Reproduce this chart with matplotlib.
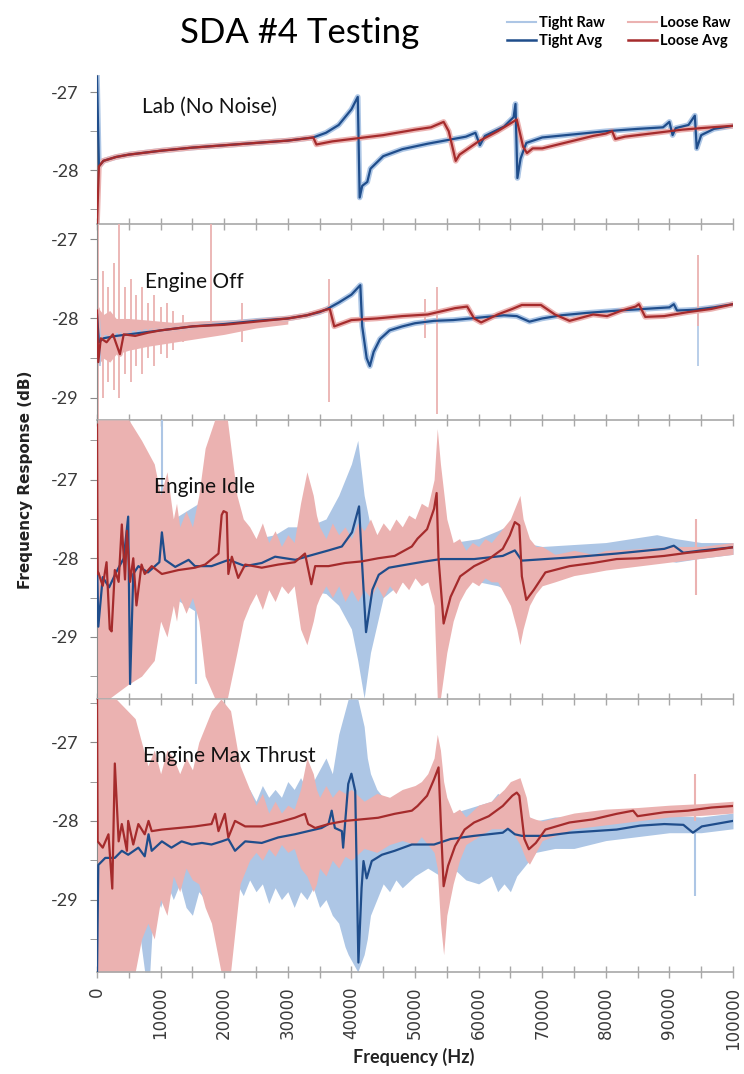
import numpy as np
import matplotlib.pyplot as plt
from matplotlib.ticker import MultipleLocator, StrMethodFormatter
from matplotlib.lines import Line2D

plt.rcParams['axes.unicode_minus'] = False

# ---- data (frequency in kHz, response in dB) ----

# Lab (No Noise)
lab_tight_f = [0, 0.3, 1, 3, 5, 10, 15, 20, 25, 30, 34, 36, 38, 40, 41, 41.3, 41.7, 42.5, 43, 45,
               48, 52, 56, 58, 59.5, 60.2, 61, 62, 64, 65.5, 65.8, 66.1, 66.6, 67.5, 70, 75, 80, 85,
               89, 90, 90.5, 91, 93, 94, 94.3, 95, 97, 100]
lab_tight = [-26.8, -27.95, -27.88, -27.83, -27.8, -27.75, -27.71, -27.68, -27.65, -27.62,
             -27.58, -27.52, -27.42, -27.22, -27.06, -28.35, -28.2, -28.15, -27.98, -27.82,
             -27.73, -27.66, -27.6, -27.57, -27.52, -27.68, -27.56, -27.52, -27.44, -27.32,
             -27.15, -28.1, -27.85, -27.65, -27.58, -27.54, -27.5, -27.47, -27.45, -27.38,
             -27.55, -27.46, -27.42, -27.3, -27.72, -27.55, -27.47, -27.43]
lab_loose_f = [0, 0.3, 1, 3, 5, 10, 15, 20, 25, 30, 34, 34.5, 37, 40, 45, 50, 52.5, 54.5, 55.3, 56.4,
               57, 60, 63, 65, 66, 67, 67.6, 68.5, 70, 72, 75, 78, 80, 81, 81.5, 83, 85, 88, 90, 92,
               95, 100]
lab_loose = [-28.7, -27.95, -27.88, -27.83, -27.8, -27.75, -27.71, -27.68, -27.65, -27.62,
             -27.58, -27.67, -27.63, -27.6, -27.55, -27.48, -27.45, -27.38, -27.5, -27.88,
             -27.8, -27.63, -27.5, -27.4, -27.35, -27.7, -27.78, -27.72, -27.72, -27.68,
             -27.62, -27.56, -27.53, -27.5, -27.6, -27.57, -27.55, -27.52, -27.5, -27.48,
             -27.46, -27.43]

# Engine Off
off_tight_f = [0, 0.3, 1, 3, 5, 10, 15, 20, 25, 30, 33, 35, 36.2, 38, 40, 41.4, 41.7, 42.4, 42.9, 43.5,
               44.5, 46, 48, 50, 53, 56, 60, 64, 66, 68, 70, 73, 77, 82, 86, 90, 90.7, 91.2, 94, 97,
               100]
off_tight = [-27.95, -28.3, -28.25, -28.22, -28.2, -28.15, -28.1, -28.07, -28.03, -28.0,
             -27.96, -27.92, -27.88, -27.8, -27.7, -27.58, -28.1, -28.5, -28.6, -28.42,
             -28.26, -28.15, -28.1, -28.06, -28.03, -28.02, -27.99, -27.96, -27.97, -28.04,
             -28.0, -27.96, -27.93, -27.9, -27.88, -27.86, -27.82, -27.9, -27.89, -27.86,
             -27.82]
off_loose_f = [0, 0.2, 0.6, 1.5, 2.5, 3.6, 4.2, 6, 8, 10, 15, 20, 25, 30, 33, 36, 36.6, 37.3, 40, 44,
               48, 52, 56.3, 58.2, 59.3, 60.4, 63, 65.3, 66.8, 69.8, 72, 74.3, 75.7, 78, 80.2, 82.5,
               84.7, 85.2, 86.2, 89.2, 92.9, 96.6, 100]
off_loose = [-27.9, -28.55, -28.25, -28.3, -28.2, -28.45, -28.2, -28.22, -28.18, -28.15,
             -28.1, -28.08, -28.04, -28.0, -27.96, -27.89, -27.88, -28.1, -28.02, -28.0,
             -27.97, -27.95, -27.87, -27.85, -28.0, -28.05, -27.95, -27.88, -27.83, -27.83,
             -27.95, -28.03, -28.0, -27.95, -27.97, -27.9, -27.85, -27.82, -27.98, -27.97,
             -27.92, -27.88, -27.82]
off_loose_band_f = [0, 1, 2, 3, 5, 8, 12, 16, 20, 25, 30]
off_loose_band_hi = [-27.85, -27.95, -27.9, -28.0, -28.0, -28.02, -28.05, -28.03, -28.02, -28.0, -27.97]
off_loose_band_lo = [-28.6, -28.5, -28.55, -28.45, -28.4, -28.35, -28.3, -28.25, -28.2, -28.12, -28.07]
off_loose_spike_f = [0.2, 1.0, 1.8, 2.6, 3.5, 4.4, 5.3, 6.2, 7.1, 8.0, 9.0, 10.0, 11.0, 12.0,
                     13.5, 18.0, 22.8, 36.5, 51.5, 53.5, 94.5]
off_loose_spike_hi = [-26.8, -27.4, -27.6, -27.3, -26.8, -27.6, -27.5, -27.7, -27.6, -27.8,
                      -27.7, -27.85, -27.8, -27.9, -27.95, -26.8, -27.8, -27.5, -27.75, -27.6,
                      -27.2]
off_loose_spike_lo = [-29.28, -29.0, -28.8, -28.9, -29.0, -28.7, -28.8, -28.6, -28.7, -28.5,
                      -28.6, -28.45, -28.5, -28.4, -28.3, -28.15, -28.3, -29.05, -28.25, -29.2,
                      -28.1]
off_tight_spike_f = [0.5, 94.5]
off_tight_spike_hi = [-28.2, -27.85]
off_tight_spike_lo = [-28.6, -28.6]

# Engine Idle
idle_tight_f = [0, 0.2, 0.9, 1.9, 3.0, 4.2, 4.9, 5.2, 5.7, 6.5, 8.0, 9.8, 10.2, 10.7, 12.3, 14.4,
                15.4, 18, 20.7, 23.3, 25.9, 28, 31.2, 33.3, 36.4, 38.5, 40.1, 41.2, 41.7, 42.3,
                43.3, 44.3, 45.9, 48, 51.6, 54.1, 59.3, 63.8, 65.7, 66.8, 70.5, 74.3, 81.7, 89.2,
                90.7, 92.2, 95.1, 100]
idle_tight = [-28.0, -28.87, -28.24, -28.37, -28.18, -28.0, -27.47, -29.6, -28.2, -28.1,
              -28.18, -28.05, -27.67, -28.02, -28.11, -28.02, -28.1, -28.1, -28.02, -28.1,
              -28.06, -27.98, -28.02, -27.97, -27.9, -27.85, -27.67, -27.34, -28.1, -28.94,
              -28.4, -28.21, -28.12, -28.09, -28.04, -28.01, -28.01, -27.97, -27.9, -28.03,
              -28.01, -27.99, -27.94, -27.88, -27.84, -27.93, -27.9, -27.86]
idle_loose_f = [0, 0.1, 0.2, 0.9, 1.5, 2.0, 2.3, 2.8, 3.4, 3.9, 4.4, 4.7, 5.2, 5.7, 6.2, 7.0, 7.5,
                8.6, 10.2, 12.8, 15.4, 17, 19.1, 19.6, 19.9, 20.4, 20.65, 21.2, 22.2, 23.3, 25.9,
                28.5, 31.1, 32.7, 33.7, 34.3, 36.4, 39, 41.6, 44.2, 46.8, 49.5, 50.4, 51.9, 53.0,
                53.4, 53.7, 54.5, 55.6, 57.1, 59.3, 61.6, 63.8, 64.9, 65.7, 66.4, 66.8, 67.5, 68.7,
                70.5, 74.3, 78, 81.7, 85, 89.2, 92.9, 96.6, 100]
idle_loose = [-26.3, -28.2, -28.18, -28.35, -28.05, -28.9, -28.93, -28.15, -28.3, -27.57,
              -28.27, -27.65, -28.3, -28.0, -28.6, -28.08, -28.2, -28.1, -28.2, -28.15,
              -28.12, -28.08, -27.94, -27.45, -27.4, -27.42, -28.2, -27.98, -28.25, -28.08,
              -28.12, -28.08, -28.05, -27.94, -28.33, -28.1, -28.1, -28.06, -28.04, -28.0,
              -27.97, -27.85, -27.75, -27.63, -27.37, -27.17, -28.0, -28.83, -28.49, -28.23,
              -28.1, -28.01, -27.88, -27.71, -27.54, -27.58, -28.23, -28.53, -28.4, -28.18,
              -28.1, -28.06, -28.01, -28.0, -27.97, -27.93, -27.9, -27.86]
idle_loose_band_f = [0, 2, 5, 7, 9, 10, 11, 12, 12.5, 13,
                     14, 15, 16, 17, 18.5, 20.5, 22, 23, 24, 25,
                     26, 27, 28, 29, 30, 31, 32, 33, 34, 34.5,
                     35, 36, 37, 38, 39, 40, 41, 42, 43, 44,
                     45, 46, 47, 48, 49, 50, 51, 52, 53, 53.5,
                     54, 55, 56, 57, 58, 59, 60, 61, 62, 63,
                     64, 65, 66, 66.5, 67, 68, 69, 70, 72, 75,
                     78, 80, 85, 90, 95, 100]
idle_loose_band_hi = [-26.24, -26.24, -26.24, -26.5, -26.8, -27.2, -26.9, -27.5, -27.3, -27.6,
                      -27.4, -27.6, -27.2, -26.6, -26.24, -26.24, -27.2, -27.5, -27.6, -27.75,
                      -27.55, -27.8, -27.65, -27.85, -27.7, -27.8, -27.3, -26.9, -27.2, -27.45,
                      -27.6, -27.75, -27.55, -27.7, -27.6, -27.75, -27.55, -27.65, -27.5, -27.7,
                      -27.55, -27.65, -27.5, -27.6, -27.45, -27.5, -27.3, -27.35, -27.0, -26.35,
                      -26.8, -27.5, -27.8, -27.75, -27.9, -27.8, -27.85, -27.75, -27.8, -27.7,
                      -27.6, -27.5, -27.3, -27.2, -27.5, -27.75, -27.85, -27.85, -27.95, -27.9,
                      -27.95, -27.9, -27.88, -27.85, -27.85, -27.8]
idle_loose_band_lo = [-29.78, -29.78, -29.6, -29.5, -29.3, -28.8, -29.0, -28.6, -28.8, -28.5,
                      -28.7, -28.5, -28.8, -29.5, -29.78, -29.78, -29.2, -28.8, -28.6, -28.45,
                      -28.65, -28.4, -28.55, -28.35, -28.45, -28.35, -28.9, -29.1, -28.8, -28.6,
                      -28.5, -28.35, -28.5, -28.35, -28.55, -28.4, -28.55, -28.4, -28.5, -28.35,
                      -28.5, -28.35, -28.45, -28.3, -28.4, -28.25, -28.35, -28.3, -28.6, -29.78,
                      -29.78, -29.2, -28.8, -28.55, -28.4, -28.3, -28.35, -28.25, -28.3, -28.3,
                      -28.45, -28.6, -28.9, -29.1, -28.9, -28.6, -28.45, -28.35, -28.3, -28.22,
                      -28.18, -28.15, -28.1, -28.05, -28.0, -27.95]
idle_tight_band_f = [0, 5, 10, 12, 14, 16, 18, 22, 25, 28, 30, 33, 36, 38, 40, 41, 42, 43, 45, 48,
                     50, 53, 56, 60, 63, 65.5, 67, 70, 80, 88, 91, 95, 100]
idle_tight_band_hi = [-26.8, -27.2, -27.6, -27.5, -27.4, -27.3, -27.5, -27.6, -27.75, -27.7,
                      -27.6, -27.6, -27.5, -27.2, -26.8, -26.5, -27.2, -27.6, -27.8, -27.85,
                      -27.9, -27.85, -27.8, -27.75, -27.65, -27.55, -27.8, -27.85, -27.8, -27.7,
                      -27.75, -27.8, -27.8]
idle_tight_band_lo = [-29.5, -29.0, -28.6, -28.5, -28.6, -28.7, -28.5, -28.5, -28.35, -28.35,
                      -28.3, -28.4, -28.45, -28.6, -28.9, -29.3, -29.78, -29.2, -28.5, -28.3,
                      -28.2, -28.2, -28.25, -28.3, -28.35, -28.45, -28.3, -28.15, -28.05, -28.0,
                      -28.05, -28.0, -27.95]
idle_tight_spike_f = [10.2, 15.5]
idle_tight_spike_hi = [-26.24, -27.4]
idle_tight_spike_lo = [-28.0, -29.6]
idle_loose_spike_f = [94.2]
idle_loose_spike_hi = [-27.5]
idle_loose_spike_lo = [-28.47]

# Engine Max Thrust
thrust_tight_f = [0, 0.2, 1.3, 2.8, 3.9, 4.9, 6.5, 7.5, 8.1, 8.6, 10.2, 11.7, 13.3, 14.9, 16.5, 18,
                  19.6, 20.65, 21.7, 23.3, 25.9, 28.5, 31.1, 33.2, 35.3, 36.4, 36.9, 37.4, 38.5,
                  38.7, 39.5, 40.0, 40.6, 41.1, 41.6, 41.9, 42.4, 43.2, 44.8, 46.8, 49.5, 53, 55.6,
                  59.3, 63.8, 64.6, 65.7, 66.8, 70.5, 74.3, 78, 81.7, 85.4, 89.2, 92.2, 93.7, 95.1,
                  100]
thrust_tight = [-29.92, -28.56, -28.47, -28.47, -28.38, -28.43, -28.34, -28.45, -28.17, -28.38,
                -28.26, -28.34, -28.26, -28.3, -28.28, -28.3, -28.26, -28.23, -28.38, -28.26,
                -28.28, -28.21, -28.17, -28.13, -28.09, -28.04, -27.87, -28.09, -28.13, -28.34,
                -27.53, -27.4, -27.62, -29.8, -28.85, -28.51, -28.73, -28.51, -28.43, -28.38,
                -28.3, -28.3, -28.23, -28.19, -28.15, -28.1, -28.17, -28.19, -28.19, -28.15,
                -28.13, -28.11, -28.06, -28.04, -28.05, -28.15, -28.07, -28.0]
thrust_loose_f = [0, 0.1, 0.9, 1.8, 2.4, 2.8, 3.4, 3.9, 4.7, 4.9, 5.7, 6.5, 7.5, 8.1, 8.6, 10.2,
                  12.8, 15.4, 18.0, 18.6, 19.1, 20.1, 20.65, 21.7, 23.3, 25.9, 28.5, 31.1, 32.7,
                  33.2, 34.3, 36.4, 39, 41.6, 44.2, 46.8, 49.5, 50.4, 51.9, 53.0, 53.7, 54.1, 54.5,
                  55.2, 56.3, 57.8, 59.3, 61.6, 63.8, 65.3, 66.0, 66.4, 67.2, 67.9, 69.0, 70.5,
                  74.3, 78, 81.7, 84.3, 85.0, 89.2, 92.9, 96.6, 100]
thrust_loose = [-26.45, -28.26, -28.34, -28.17, -28.86, -27.27, -28.26, -28.04, -28.38, -28.0,
                -28.3, -28.04, -28.17, -28.0, -28.13, -28.11, -28.09, -28.07, -28.04, -27.91,
                -28.13, -27.91, -28.21, -28.0, -28.07, -28.07, -28.02, -27.96, -27.91, -28.04,
                -28.09, -28.04, -28.0, -27.98, -27.96, -27.91, -27.87, -27.81, -27.68, -27.47,
                -27.32, -28.1, -28.83, -28.57, -28.32, -28.11, -28.02, -27.94, -27.81, -27.68,
                -27.64, -27.68, -28.23, -28.36, -28.28, -28.11, -28.02, -27.98, -27.91, -27.87,
                -27.94, -27.89, -27.87, -27.83, -27.81]
thrust_loose_band_f = [0, 3, 6, 7, 8, 9, 10, 11, 12, 13,
                       14, 15, 16, 17, 18, 19.5, 21, 22.5, 24, 25,
                       26, 27, 28, 29, 30, 31, 32, 33, 34, 34.5,
                       35, 36, 37, 38, 39, 40, 42, 44, 46, 48,
                       50, 51, 52, 53, 53.5, 54, 54.5, 55, 56, 57,
                       58, 60, 62, 64, 65, 66.5, 67.5, 68, 69, 70,
                       75, 80, 85, 90, 95, 100]
thrust_loose_band_hi = [-26.45, -26.45, -26.7, -27.0, -27.3, -27.1, -27.4, -27.1, -27.2, -27.4,
                        -27.2, -27.35, -27.0, -26.8, -26.6, -26.45, -26.6, -27.3, -27.6, -27.8,
                        -27.65, -27.9, -27.75, -27.9, -27.8, -27.85, -27.6, -27.2, -27.4, -27.6,
                        -27.7, -27.55, -27.7, -27.6, -27.65, -27.6, -27.75, -27.65, -27.7, -27.6,
                        -27.55, -27.5, -27.4, -27.2, -26.9, -27.1, -27.5, -27.7, -27.9, -27.85,
                        -27.95, -27.8, -27.75, -27.6, -27.5, -27.45, -27.7, -27.95, -27.98, -28.0,
                        -27.9, -27.85, -27.83, -27.8, -27.78, -27.75]
thrust_loose_band_lo = [-29.92, -29.92, -29.92, -29.5, -29.3, -29.5, -29.0, -29.2, -28.7, -28.9,
                        -28.6, -28.75, -28.8, -29.1, -29.3, -29.92, -29.92, -28.8, -28.5, -28.4,
                        -28.5, -28.35, -28.45, -28.3, -28.4, -28.35, -28.6, -28.7, -28.9, -28.8,
                        -28.6, -28.7, -28.5, -28.6, -28.45, -28.5, -28.35, -28.4, -28.3, -28.25,
                        -28.3, -28.2, -28.3, -28.4, -28.6, -29.3, -29.7, -29.2, -28.8, -28.5,
                        -28.3, -28.2, -28.1, -28.1, -28.1, -28.3, -28.5, -28.55, -28.4, -28.25,
                        -28.1, -28.05, -28.0, -27.95, -27.93, -27.9]
thrust_tight_band_f = [0, 4, 5, 6, 7.5, 8.3, 9, 10, 11, 12,
                       13, 14, 15, 16, 17, 18, 19, 20, 21, 22,
                       23, 24, 25, 26, 27, 28, 29, 30, 31, 32,
                       33, 34, 35, 36, 37, 38, 39, 39.5, 41, 42,
                       42.5, 43, 44, 45, 46, 47, 48, 50, 52, 54,
                       56, 58, 60, 62, 63, 64, 65, 66, 67, 69,
                       72, 75, 80, 85, 90, 95, 100]
thrust_tight_band_hi = [-27.5, -27.6, -27.4, -27.6, -27.3, -27.5, -27.7, -27.5, -27.7, -27.6,
                        -27.75, -27.55, -27.7, -27.6, -27.8, -27.65, -27.8, -27.6, -27.7, -27.55,
                        -27.7, -27.6, -27.75, -27.55, -27.7, -27.6, -27.7, -27.5, -27.6, -27.45,
                        -27.6, -27.5, -27.35, -27.2, -27.4, -26.9, -26.6, -26.45, -26.45, -26.8,
                        -27.2, -27.4, -27.6, -27.7, -27.8, -27.75, -27.85, -27.8, -27.9, -27.85,
                        -27.9, -27.85, -27.8, -27.75, -27.65, -27.7, -27.6, -27.7, -27.9, -28.0,
                        -27.95, -27.95, -27.95, -27.92, -27.93, -27.95, -27.9]
thrust_tight_band_lo = [-29.92, -29.1, -29.4, -29.0, -29.92, -29.92, -28.9, -29.1, -28.8, -29.0,
                        -28.8, -29.1, -29.2, -28.9, -29.0, -28.8, -29.0, -28.85, -29.05, -28.8,
                        -28.95, -28.75, -28.9, -28.8, -29.05, -28.85, -29.0, -28.9, -29.1, -28.9,
                        -29.0, -28.85, -29.1, -29.0, -29.2, -29.3, -29.6, -29.7, -29.92, -29.7,
                        -29.5, -29.2, -29.0, -28.8, -28.9, -28.75, -28.85, -28.7, -28.6, -28.7,
                        -28.6, -28.75, -28.8, -28.7, -28.9, -28.8, -28.9, -28.7, -28.6, -28.4,
                        -28.35, -28.35, -28.25, -28.2, -28.15, -28.15, -28.1]
thrust_tight_spike_f = [94.0]
thrust_tight_spike_hi = [-27.9]
thrust_tight_spike_lo = [-28.95]
thrust_loose_spike_f = [94.0]
thrust_loose_spike_hi = [-27.4]
thrust_loose_spike_lo = [-28.0]

panel_names = ['Lab (No Noise)', 'Engine Off', 'Engine Idle', 'Engine Max Thrust']

# ---- style ----
tight_raw_c = '#adc6e5'
loose_raw_c = '#ebb2b1'
tight_avg_c = '#1f4d8b'
loose_avg_c = '#a52b2c'
calibri = ['Lato', 'DejaVu Sans']

fig = plt.figure(figsize=(7.44, 10.74), dpi=100)

rects = [
    [0.1304, 0.7914, 0.8548, 0.1387],
    [0.1304, 0.6089, 0.8548, 0.1825],
    [0.1304, 0.3492, 0.8548, 0.2598],
    [0.1304, 0.0950, 0.8548, 0.2542],
]
ylims = [(-28.69, -26.78), (-29.28, -26.81), (-29.79, -26.24), (-29.92, -26.45)]
label_pos = [(7000, -27.19), (7500, -27.54), (9000, -27.09), (7200, -27.17)]

k = lambda v: np.asarray(v) * 1000.0

axes = [fig.add_axes(r) for r in rects]

# panel 1: raw follows avg closely
ax = axes[0]
ax.plot(k(lab_tight_f), lab_tight, color=tight_raw_c, lw=4, zorder=1)
ax.plot(k(lab_loose_f), lab_loose, color=loose_raw_c, lw=4, zorder=1)
ax.plot(k(lab_tight_f), lab_tight, color=tight_avg_c, lw=1.6, zorder=3)
ax.plot(k(lab_loose_f), lab_loose, color=loose_avg_c, lw=1.6, zorder=4)

# panel 2
ax = axes[1]
ax.fill_between(k(off_loose_band_f), off_loose_band_lo, off_loose_band_hi, color=loose_raw_c, lw=0, zorder=1)
ax.plot(k(off_tight_f), off_tight, color=tight_raw_c, lw=4, zorder=1)
ax.plot(k(off_loose_f), off_loose, color=loose_raw_c, lw=4, zorder=1)
ax.vlines(k(off_tight_spike_f), off_tight_spike_lo, off_tight_spike_hi, color=tight_raw_c, lw=1.2, zorder=1)
ax.vlines(k(off_loose_spike_f), off_loose_spike_lo, off_loose_spike_hi, color=loose_raw_c, lw=1.3, zorder=2)
ax.plot(k(off_tight_f), off_tight, color=tight_avg_c, lw=1.6, zorder=3)
ax.plot(k(off_loose_f), off_loose, color=loose_avg_c, lw=1.6, zorder=4)

# panel 3
ax = axes[2]
ax.fill_between(k(idle_tight_band_f), idle_tight_band_lo, idle_tight_band_hi, color=tight_raw_c, lw=0, zorder=1)
ax.vlines(k(idle_tight_spike_f), idle_tight_spike_lo, idle_tight_spike_hi, color=tight_raw_c, lw=1.5, zorder=1)
ax.fill_between(k(idle_loose_band_f), idle_loose_band_lo, idle_loose_band_hi, color=loose_raw_c, lw=0, zorder=2)
ax.vlines(k(idle_loose_spike_f), idle_loose_spike_lo, idle_loose_spike_hi, color=loose_raw_c, lw=1.5, zorder=2)
ax.plot(k(idle_tight_f), idle_tight, color=tight_avg_c, lw=1.6, zorder=3)
ax.plot(k(idle_loose_f), idle_loose, color=loose_avg_c, lw=1.6, zorder=4)

# panel 4
ax = axes[3]
ax.fill_between(k(thrust_tight_band_f), thrust_tight_band_lo, thrust_tight_band_hi, color=tight_raw_c, lw=0, zorder=1)
ax.vlines(k(thrust_tight_spike_f), thrust_tight_spike_lo, thrust_tight_spike_hi, color=tight_raw_c, lw=1.5, zorder=1)
ax.fill_between(k(thrust_loose_band_f), thrust_loose_band_lo, thrust_loose_band_hi, color=loose_raw_c, lw=0, zorder=2)
ax.vlines(k(thrust_loose_spike_f), thrust_loose_spike_lo, thrust_loose_spike_hi, color=loose_raw_c, lw=1.5, zorder=2)
ax.plot(k(thrust_tight_f), thrust_tight, color=tight_avg_c, lw=1.6, zorder=3)
ax.plot(k(thrust_loose_f), thrust_loose, color=loose_avg_c, lw=1.6, zorder=4)

for i, ax in enumerate(axes):
    ax.set_xlim(0, 100000)
    ax.set_ylim(*ylims[i])
    ax.patch.set_alpha(0)
    for s in ['top', 'right']:
        ax.spines[s].set_visible(False)
    ax.spines['left'].set_color('#8a8a8a')
    ax.spines['bottom'].set_color('#a8a8a8')
    ax.spines['bottom'].set_linewidth(1.2)
    ax.xaxis.set_major_locator(MultipleLocator(10000))
    ax.xaxis.set_minor_locator(MultipleLocator(5000))
    ax.yaxis.set_major_locator(MultipleLocator(1))
    ax.yaxis.set_minor_locator(MultipleLocator(0.5))
    ax.tick_params(axis='x', which='both', direction='inout', length=9, color='#a8a8a8', width=1)
    ax.tick_params(axis='y', which='both', direction='out', length=5, color='#8a8a8a', pad=8)
    for t in ax.get_yticklabels():
        t.set_family(calibri)
        t.set_fontsize(13)
        t.set_color('#3a3a3a')
    if i < 3:
        ax.tick_params(axis='x', labelbottom=False)
    ax.text(label_pos[i][0], label_pos[i][1], panel_names[i], fontsize=15, family=calibri,
            ha='left', va='center', color='#111111', zorder=6)

ax = axes[3]
ax.xaxis.set_major_formatter(StrMethodFormatter('{x:.0f}'))
ax.tick_params(axis='x', labelrotation=90, labelsize=12, labelcolor='#3a3a3a', pad=6)

fig.text(0.403, 0.969, 'SDA #4 Testing', fontsize=25, family=calibri, ha='center', va='center')
fig.text(0.034, 0.553, 'Frequency Response (dB)', rotation=90, fontsize=11, fontweight='bold',
         family='DejaVu Sans', ha='center', va='center', color='#222222')
fig.text(0.556, 0.0158, 'Frequency (Hz)', fontsize=13, fontweight='bold', family=calibri,
         ha='center', va='center', color='#222222')

handles = [Line2D([], [], color=tight_raw_c, lw=1.5), Line2D([], [], color=tight_avg_c, lw=1.8),
           Line2D([], [], color=loose_raw_c, lw=1.5), Line2D([], [], color=loose_avg_c, lw=1.8)]
labels = ['Tight Raw', 'Tight Avg', 'Loose Raw', 'Loose Avg']
fig.legend(handles, labels, ncol=2, loc='upper right', bbox_to_anchor=(1.0, 0.997), frameon=False,
           prop=dict(family=calibri, weight='bold', size=10.5), handlelength=2.0,
           handletextpad=0.2, columnspacing=1.6, labelspacing=0.25)

fig.savefig('out.png', dpi=100, facecolor='white')
